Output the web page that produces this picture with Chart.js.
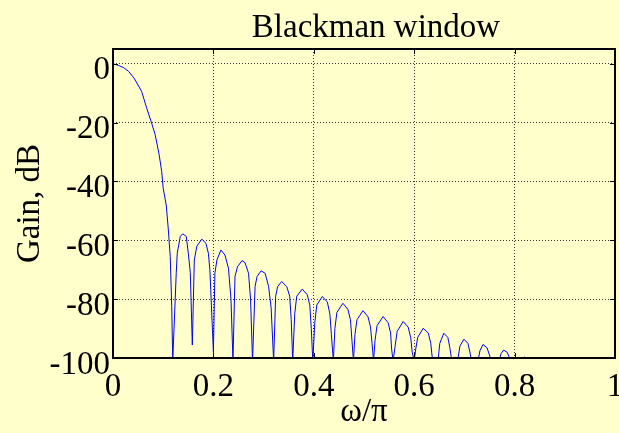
<!DOCTYPE html>
<html>
<head>
<meta charset="utf-8">
<script src="https://cdn.jsdelivr.net/npm/chart.js@4/dist/chart.umd.min.js"></script>
<style>
  html, body { margin: 0; padding: 0; background: #FFFFCC; }
  #wrap { width: 619px; height: 433px; }
</style>
</head>
<body>
<div id="wrap"><canvas id="gainChart"></canvas></div>
<script>
// normalized frequency (omega/pi) and gain in dB, main lobe then side lobes
const freq = [
  0, 0.011, 0.021, 0.031, 0.042, 0.057, 0.067, 0.077, 0.084, 0.092, 0.097, 0.1, 0.106, 0.11, 0.114, 0.117, 0.119,
  0.126, 0.128, 0.134, 0.139, 0.146, 0.15, 0.154, 0.158,
  0.162, 0.167, 0.177, 0.185, 0.19, 0.193, 0.2,
  0.203, 0.207, 0.215, 0.223, 0.23, 0.235, 0.239,
  0.243, 0.248, 0.257, 0.263, 0.27, 0.274, 0.278,
  0.283, 0.287, 0.295, 0.303, 0.31, 0.315, 0.32,
  0.324, 0.328, 0.336, 0.346, 0.352, 0.355, 0.358,
  0.362, 0.366, 0.377, 0.387, 0.392, 0.395, 0.398,
  0.402, 0.406, 0.417, 0.427, 0.432, 0.435, 0.439,
  0.442, 0.446, 0.458, 0.468, 0.473, 0.476, 0.479,
  0.482, 0.486, 0.498, 0.508, 0.513, 0.516, 0.519,
  0.522, 0.526, 0.538, 0.548, 0.553, 0.555, 0.558,
  0.562, 0.566, 0.578, 0.588, 0.593, 0.596, 0.6,
  0.603, 0.607, 0.618, 0.628, 0.633, 0.636, 0.639,
  0.648, 0.651, 0.659, 0.667, 0.671, 0.675, 0.679,
  0.687, 0.691, 0.699, 0.707, 0.711, 0.714, 0.718,
  0.727, 0.731, 0.737, 0.745, 0.75, 0.753, 0.757,
  0.769, 0.773, 0.778, 0.785, 0.79, 0.793, 0.797,
  0.812, 0.816, 0.82, 0.824, 0.828, 0.835
];
const gain = [
  0, -0.6, -1.3, -2.6, -4.9, -9.4, -15, -20.2, -24.1, -31, -36.6, -42.3, -48, -55.9, -65.5, -82.5, -101,
  -71, -64.4, -58.7, -57.8, -58.7, -64.4, -71, -95.6,
  -66.7, -62, -59.6, -61, -64.4, -70, -98,
  -71.2, -66.7, -63.3, -65, -69.5, -80, -101,
  -72.3, -69, -66.9, -67.6, -71.2, -80, -101,
  -75.7, -72.3, -70.4, -71.2, -75.7, -83, -101,
  -79, -75.7, -74, -75.7, -79, -87, -101,
  -85, -79, -76.6, -78.5, -82, -90, -101,
  -88, -82, -79.1, -81, -85, -92, -101,
  -90, -84.5, -81.4, -83.5, -87, -94, -101,
  -92, -87, -83.9, -86, -89.5, -95, -101,
  -94, -89, -85.9, -88, -91.5, -97, -101,
  -96, -91, -87.6, -89.5, -93, -98, -101,
  -97, -93, -89.9, -91.5, -95, -100, -110,
  -100, -95, -91.6, -93, -96.5, -101, -110,
  -100.5, -96, -93.6, -95, -98, -101, -110,
  -101, -97.5, -95.4, -96.5, -99, -101, -110,
  -101, -98.5, -97.3, -98, -100, -101.5, -110,
  -101, -100.2, -99.7, -100.1, -101, -110
];
const xTicks = [0, 0.2, 0.4, 0.6, 0.8, 1];
const yTicks = [-100, -80, -60, -40, -20, 0];

const serif = "'Liberation Serif', 'Times New Roman', serif";

// axes frame, inward tick marks and the plot title
const framePlugin = {
  id: 'frame',
  afterDatasetsDraw(chart) {
    const { ctx, chartArea: a, scales } = chart;
    ctx.save();
    ctx.strokeStyle = '#000';
    ctx.lineWidth = 1;
    ctx.beginPath();
    xTicks.forEach(v => {
      const px = Math.round(scales.x.getPixelForValue(v)) + 0.5;
      ctx.moveTo(px, a.bottom); ctx.lineTo(px, a.bottom - 5);
      ctx.moveTo(px, a.top); ctx.lineTo(px, a.top + 5);
    });
    yTicks.forEach(v => {
      const py = Math.round(scales.y.getPixelForValue(v)) + 0.5;
      ctx.moveTo(a.left, py); ctx.lineTo(a.left + 5, py);
      ctx.moveTo(a.right, py); ctx.lineTo(a.right - 5, py);
    });
    ctx.stroke();
    ctx.lineWidth = 2;
    ctx.strokeRect(a.left, a.top, a.right - a.left, a.bottom - a.top);
    ctx.fillStyle = '#000';
    ctx.font = '33px ' + serif;
    ctx.textAlign = 'center';
    ctx.textBaseline = 'alphabetic';
    ctx.fillText('Blackman window', (a.left + a.right) / 2 + 12, a.top - 12);
    ctx.restore();
  }
};

new Chart(document.getElementById('gainChart'), {
  type: 'line',
  data: {
    datasets: [{
      data: freq.map((f, i) => ({ x: f, y: gain[i] })),
      borderColor: '#0000FF',
      borderWidth: 1,
      pointRadius: 0,
      tension: 0,
      fill: false
    }]
  },
  options: {
    responsive: true,
    maintainAspectRatio: false,
    animation: false,
    events: [],
    layout: { padding: { top: 49, right: 4, left: 0, bottom: 0 } },
    plugins: { legend: { display: false }, tooltip: { enabled: false } },
    scales: {
      x: {
        type: 'linear',
        min: 0,
        max: 1,
        afterBuildTicks: s => { s.ticks = xTicks.map(v => ({ value: v })); },
        afterFit: s => { s.height = 75; s.paddingLeft = 0; s.paddingRight = 0; },
        grid: { color: '#333', lineWidth: 1, drawTicks: false },
        border: { display: false, dash: [1, 2] },
        ticks: {
          color: '#000',
          padding: 10,
          maxRotation: 0,
          font: { family: serif, size: 33, lineHeight: 1.2 },
          callback: v => String(v)
        },
        title: {
          display: true,
          text: 'ω/π',
          color: '#000',
          font: { family: serif, size: 33, lineHeight: 1.2 },
          padding: { top: 0, bottom: 1 }
        }
      },
      y: {
        type: 'linear',
        min: -100,
        max: 5,
        afterBuildTicks: s => { s.ticks = yTicks.map(v => ({ value: v })); },
        afterFit: s => { s.width = 113; s.paddingTop = 0; s.paddingBottom = 0; },
        grid: { color: '#333', lineWidth: 1, drawTicks: false },
        border: { display: false, dash: [1, 2] },
        ticks: {
          color: '#000',
          padding: 3,
          labelOffset: 7,
          font: { family: serif, size: 33, lineHeight: 1.2 },
          callback: v => String(v)
        },
        title: {
          display: true,
          text: 'Gain, dB',
          color: '#000',
          font: { family: serif, size: 33, lineHeight: 1.2 },
          padding: { top: 11, bottom: 0 }
        }
      }
    }
  },
  plugins: [framePlugin]
});
</script>
</body>
</html>
